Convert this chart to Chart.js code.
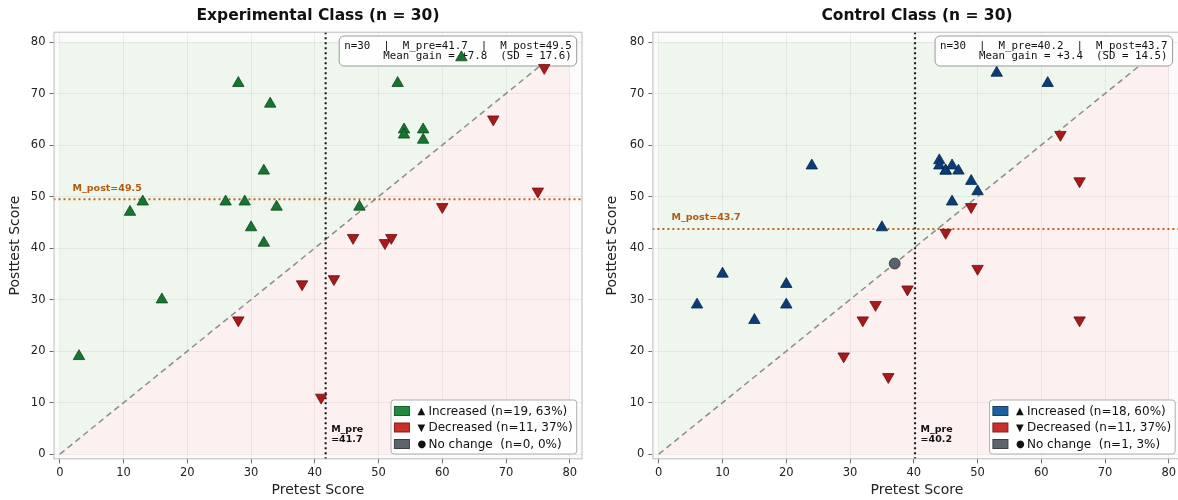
<!DOCTYPE html>
<html>
<head>
<meta charset="utf-8">
<script src="https://cdn.jsdelivr.net/npm/chart.js@4.4.1/dist/chart.umd.min.js"></script>
<style>
  html, body { margin: 0; padding: 0; background: #fff; width: 1178px; height: 500px; overflow: hidden; }
  #wrap { position: relative; width: 1178px; height: 500px; overflow: hidden; }
  canvas { position: absolute; top: 0; }
  #left { left: 0; }
  #right { left: 590px; }
</style>
</head>
<body>
<div id="wrap">
  <canvas id="left" width="590" height="500"></canvas>
  <!-- wider than the page on purpose: the original figure is cropped at the right edge -->
  <canvas id="right" width="599" height="500"></canvas>
</div>
<script>
const tickValues = [0, 10, 20, 30, 40, 50, 60, 70, 80];
const legendMarks = ['\u25B2', '\u25BC', '\u25CF'];

// Experimental class (pretest, posttest)
const expIncPre  = [28, 33, 53, 54, 54, 57, 57, 32, 11, 13, 26, 29, 34, 30, 32, 47, 63, 16, 3];
const expIncPost = [72, 68, 72, 63, 62, 63, 61, 55, 47, 49, 49, 49, 48, 44, 41, 48, 77, 30, 19];
const expDecPre  = [76, 68, 75, 60, 46, 51, 52, 43, 38, 28, 41];
const expDecPost = [75, 65, 51, 48, 42, 41, 42, 34, 33, 26, 11];
const expSamePre  = [];
const expSamePost = [];
const expMeanPre = 41.7;
const expMeanPost = 49.5;
const expStats = ['n=30  |  M_pre=41.7  |  M_post=49.5', 'Mean gain = +7.8  (SD = 17.6)'];
const expLegend = ['Increased (n=19, 63%)', 'Decreased (n=11, 37%)', 'No change  (n=0, 0%)'];

// Control class (pretest, posttest)
const ctlIncPre  = [53, 61, 24, 44, 44, 45, 45, 46, 47, 49, 50, 46, 35, 10, 6, 20, 20, 15];
const ctlIncPost = [74, 72, 56, 57, 56, 55, 55, 56, 55, 53, 51, 49, 44, 35, 29, 33, 29, 26];
const ctlDecPre  = [63, 66, 49, 45, 50, 39, 34, 32, 29, 36, 66];
const ctlDecPost = [62, 53, 48, 43, 36, 32, 29, 26, 19, 15, 26];
const ctlSamePre  = [37];
const ctlSamePost = [37];
const ctlMeanPre = 40.2;
const ctlMeanPost = 43.7;
const ctlStats = ['n=30  |  M_pre=40.2  |  M_post=43.7', 'Mean gain = +3.4  (SD = 14.5)'];
const ctlLegend = ['Increased (n=18, 60%)', 'Decreased (n=11, 37%)', 'No change  (n=1, 3%)'];

const FONT = '"DejaVu Sans", sans-serif';
const MONO = '"DejaVu Sans Mono", monospace';

function pts(xs, ys) {
  return xs.map((v, i) => ({ x: v, y: ys[i] }));
}

function makeDeco(info) {
  let boxDone = false;
  return {
    id: 'deco',
    beforeDraw(chart) {
      const { ctx, chartArea: a, scales: { x, y } } = chart;
      ctx.save();
      ctx.fillStyle = '#fbfbfb';
      ctx.fillRect(a.left, a.top, a.width, a.height);
      const x0 = x.getPixelForValue(0), x1 = x.getPixelForValue(80);
      const y0 = y.getPixelForValue(0), y1 = y.getPixelForValue(80);
      ctx.fillStyle = '#eef6ee';
      ctx.beginPath(); ctx.moveTo(x0, y0); ctx.lineTo(x0, y1); ctx.lineTo(x1, y1); ctx.closePath(); ctx.fill();
      ctx.fillStyle = '#fcf0f0';
      ctx.beginPath(); ctx.moveTo(x0, y0); ctx.lineTo(x1, y0); ctx.lineTo(x1, y1); ctx.closePath(); ctx.fill();
      ctx.restore();
    },
    beforeDatasetsDraw() {
      boxDone = false;
    },
    beforeDatasetDraw(chart, args) {
      if (boxDone || args.meta.type !== 'scatter') return;
      boxDone = true;
      // stats box sits over the lines but under the markers
      const { ctx, chartArea: a } = chart;
      ctx.save();
      ctx.font = '10.8px ' + MONO;
      const w = Math.max(...info.stats.map(s => ctx.measureText(s).width));
      const right = a.right - info.boxRight;
      const bx = right - w - 5, by = a.top + 4.3, bw = w + 10, bh = 30;
      ctx.fillStyle = 'rgba(255,255,255,0.9)';
      ctx.strokeStyle = '#9a9a9a';
      ctx.lineWidth = 1;
      ctx.beginPath(); ctx.roundRect(bx, by, bw, bh, 5); ctx.fill(); ctx.stroke();
      ctx.fillStyle = '#111';
      ctx.textAlign = 'right';
      ctx.textBaseline = 'middle';
      ctx.fillText(info.stats[0], right, by + 9.8);
      ctx.fillText(info.stats[1], right, by + 20.2);
      ctx.restore();
    },
    afterDraw(chart) {
      const { ctx, chartArea: a, scales: { x, y } } = chart;
      ctx.save();
      // frame
      ctx.strokeStyle = '#bdbdbd';
      ctx.lineWidth = 1;
      ctx.strokeRect(a.left + 0.5, a.top + 0.5, a.width - 1, a.height - 1);

      // title
      ctx.fillStyle = '#111';
      ctx.font = 'bold 15.5px ' + FONT;
      ctx.textAlign = 'center';
      ctx.textBaseline = 'middle';
      ctx.fillText(info.title, (a.left + a.right) / 2, 16);

      // mean labels
      ctx.font = 'bold 9.5px ' + FONT;
      ctx.textAlign = 'left';
      ctx.fillStyle = '#b35a12';
      ctx.fillText('M_post=' + info.meanPost.toFixed(1), x.getPixelForValue(2), y.getPixelForValue(info.meanPost) - 11);
      ctx.fillStyle = '#111';
      const mx = x.getPixelForValue(info.meanPre) + 5.5;
      const base = y.getPixelForValue(0);
      ctx.fillText('M_pre', mx, base - 25);
      ctx.fillText('=' + info.meanPre.toFixed(1), mx, base - 15);

      // legend
      ctx.font = '12px ' + FONT;
      const tw = Math.max(...info.legend.map(s => ctx.measureText(s).width));
      const lw = 3.4 + 15 + 8 + 11 + tw + 4;
      const lh = 54;
      const lx = a.right - info.legendRight - lw;
      const ly = a.bottom - 5.3 - lh;
      ctx.fillStyle = 'rgba(255,255,255,0.9)';
      ctx.strokeStyle = '#b0b0b0';
      ctx.beginPath(); ctx.roundRect(lx, ly, lw, lh, 3); ctx.fill(); ctx.stroke();
      info.legend.forEach((s, i) => {
        const cy = ly + 11 + i * 16.5;
        ctx.fillStyle = info.patch[i];
        ctx.strokeStyle = info.patchEdge[i];
        ctx.fillRect(lx + 3.4, cy - 4.5, 15, 9);
        ctx.strokeRect(lx + 3.4, cy - 4.5, 15, 9);
        ctx.fillStyle = '#111';
        ctx.font = '10px ' + FONT;
        ctx.fillText(legendMarks[i], lx + 26.4, cy + 0.5);
        ctx.font = '12px ' + FONT;
        ctx.fillText(s, lx + 37.4, cy + 0.5);
      });
      ctx.restore();
    }
  };
}

function makeChart(id, info) {
  const datasets = [
    {
      type: 'line', data: [{ x: 0, y: 0 }, { x: 80, y: 80 }],
      borderColor: '#8c8c8c', borderWidth: 1.5, borderDash: [6, 4], pointRadius: 0, order: 10
    },
    {
      type: 'line', data: [{ x: info.meanPre, y: -1 }, { x: info.meanPre, y: 82 }],
      borderColor: '#111', borderWidth: 2, borderDash: [2, 3], pointRadius: 0, order: 9
    },
    {
      type: 'line', data: [{ x: -1, y: info.meanPost }, { x: 82, y: info.meanPost }],
      borderColor: '#c0651c', borderWidth: 2, borderDash: [2, 3], pointRadius: 0, order: 8
    },
    {
      type: 'scatter', data: pts(info.incPre, info.incPost),
      pointStyle: 'triangle', pointRadius: 6.6, backgroundColor: info.incColor, borderColor: info.incEdge,
      borderWidth: 0.8, order: 3
    },
    {
      type: 'scatter', data: pts(info.decPre, info.decPost),
      pointStyle: 'triangle', rotation: 180, pointRadius: 6.6, backgroundColor: '#a8191b', borderColor: '#6a0e0e',
      borderWidth: 0.8, order: 2
    },
    {
      type: 'scatter', data: pts(info.samePre, info.samePost),
      pointStyle: 'circle', pointRadius: 5.4, backgroundColor: '#59636b', borderColor: '#353c41',
      borderWidth: 1, order: 1
    }
  ];

  const tickFont = { family: FONT, size: 11.5 };
  const grid = { color: 'rgba(0,0,0,0.07)', tickColor: '#444', tickLength: 4, lineWidth: 0.8 };

  return new Chart(document.getElementById(id), {
    type: 'scatter',
    data: { datasets },
    options: {
      responsive: false,
      animation: false,
      events: [],
      layout: { padding: { left: 0, right: info.padRight, top: 31.7, bottom: 0 } },
      plugins: { legend: { display: false }, tooltip: { enabled: false }, title: { display: false } },
      scales: {
        x: {
          type: 'linear', min: -1, max: 82,
          afterBuildTicks: s => { s.ticks = tickValues.map(v => ({ value: v })); },
          afterFit: s => { s.height = 40.7; },
          ticks: { font: tickFont, color: '#222', padding: 3, maxRotation: 0, autoSkip: false },
          grid: grid,
          border: { display: false },
          title: { display: true, text: 'Pretest Score', color: '#222', font: { family: FONT, size: 14 }, padding: { top: 0, bottom: 1.6 } }
        },
        y: {
          type: 'linear', min: -1, max: 82,
          afterBuildTicks: s => { s.ticks = tickValues.map(v => ({ value: v })); },
          afterFit: s => { s.width = info.yWidth; },
          ticks: { font: tickFont, color: '#222', padding: 4, autoSkip: false },
          grid: grid,
          border: { display: false },
          title: { display: true, text: 'Posttest Score', color: '#222', font: { family: FONT, size: 14 }, padding: { top: info.yTitlePad, bottom: 0 } }
        }
      }
    },
    plugins: [makeDeco(info)]
  });
}

makeChart('left', {
  title: 'Experimental Class (n = 30)',
  incPre: expIncPre, incPost: expIncPost, decPre: expDecPre, decPost: expDecPost,
  samePre: expSamePre, samePost: expSamePost,
  meanPre: expMeanPre, meanPost: expMeanPost, stats: expStats, legend: expLegend,
  incColor: '#17752f', incEdge: '#0c4a1b',
  patch: ['#1f8b3b', '#c9302c', '#5c656c'], patchEdge: ['#13602a', '#8a1a17', '#3a4146'],
  padRight: 7.5, yWidth: 53.5, yTitlePad: 7.4, boxRight: 10.8, legendRight: 5.8
});

makeChart('right', {
  title: 'Control Class (n = 30)',
  incPre: ctlIncPre, incPost: ctlIncPost, decPre: ctlDecPre, decPost: ctlDecPost,
  samePre: ctlSamePre, samePost: ctlSamePost,
  meanPre: ctlMeanPre, meanPost: ctlMeanPost, stats: ctlStats, legend: ctlLegend,
  incColor: '#0b3c78', incEdge: '#062750',
  patch: ['#1f5fa0', '#c9302c', '#5c656c'], patchEdge: ['#123f6e', '#8a1a17', '#3a4146'],
  padRight: 0, yWidth: 62.4, yTitlePad: 14.1, boxRight: 14, legendRight: 6.4
});
</script>
</body>
</html>
